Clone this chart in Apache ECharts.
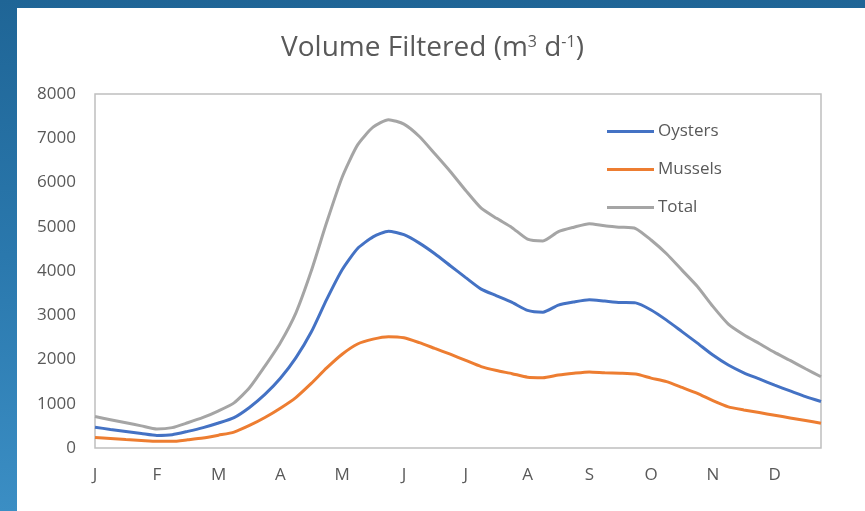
<!DOCTYPE html>
<html>
<head>
<meta charset="utf-8">
<script src="https://cdn.jsdelivr.net/npm/echarts@6/dist/echarts.min.js"></script>
<style>
  html, body { margin: 0; padding: 0; width: 865px; height: 511px; overflow: hidden; }
  body { background: linear-gradient(180deg, #1f6596 0%, #2a78ad 50%, #3b8ec4 100%); position: relative; }
  #panel { position: absolute; left: 17px; top: 8px; right: 0; bottom: 0; background: #ffffff; }
  #chart { position: absolute; left: 0; top: 0; width: 865px; height: 511px; }
</style>
</head>
<body>
<div id="panel"></div>
<div id="chart"></div>
<script>
// Month initials shown under the axis (one label per 4 quarter-month steps)
const months = ['J', 'F', 'M', 'A', 'M', 'J', 'J', 'A', 'S', 'O', 'N', 'D'];

// Daily volume filtered (m3 d-1), sampled four times per month
const oysters = [470, 420, 375, 330, 285, 300, 375, 460, 564, 686,
  916, 1210, 1575, 2036, 2620, 3360, 4030, 4510, 4770, 4900,
  4820, 4630, 4390, 4120, 3850, 3590, 3440, 3290, 3110, 3070,
  3230, 3300, 3350, 3320, 3290, 3280, 3120, 2890, 2630, 2370,
  2100, 1875, 1700, 1560, 1420, 1290, 1160, 1050];

const mussels = [240, 215, 190, 170, 150, 150, 185, 225, 290, 360,
  510, 690, 900, 1140, 1460, 1810, 2120, 2350, 2460, 2515,
  2490, 2380, 2250, 2120, 1980, 1840, 1750, 1680, 1600, 1590,
  1650, 1690, 1720, 1700, 1690, 1670, 1580, 1500, 1370, 1235,
  1070, 930, 860, 800, 740, 680, 620, 560];

const total = [710, 640, 570, 500, 430, 460, 570, 690, 840, 1020,
  1360, 1850, 2380, 3050, 4000, 5100, 6120, 6850, 7250, 7420,
  7320, 7040, 6650, 6250, 5820, 5420, 5190, 4980, 4720, 4680,
  4890, 4990, 5070, 5020, 4990, 4960, 4700, 4390, 4020, 3650,
  3200, 2800, 2560, 2360, 2160, 1980, 1790, 1610];

const steps = oysters.map((_, i) => String(i));

const FONT = 'Open Sans';
const TEXT = '#595959';

const chart = echarts.init(document.getElementById('chart'), null, { renderer: 'canvas' });

chart.setOption({
  backgroundColor: 'transparent',
  animation: false,
  title: {
    text: '{a|Volume Filtered (m}{s|3}{a| d}{s|-1}{a|)}',
    left: 'center',
    top: 28,
    padding: 0,
    textStyle: {
      fontWeight: 'normal',
      rich: {
        a: { fontFamily: FONT, fontSize: 28, fontWeight: 'normal', color: TEXT, lineHeight: 34, verticalAlign: 'bottom' },
        s: { fontFamily: FONT, fontSize: 16, fontWeight: 'normal', color: TEXT, lineHeight: 16, verticalAlign: 'bottom', padding: [0, 0, 12, 0] }
      }
    }
  },
  legend: {
    orient: 'vertical',
    left: 607,
    top: 123,
    padding: 0,
    itemWidth: 47,
    itemHeight: 3,
    itemGap: 21,
    icon: 'rect',
    textStyle: { fontFamily: FONT, fontSize: 17, color: TEXT, padding: [0, 0, 0, -1] },
    data: ['Oysters', 'Mussels', 'Total']
  },
  grid: {
    left: 95, right: 44, top: 94, bottom: 63,
    show: true, borderColor: '#bfbfbf', borderWidth: 1.5, backgroundColor: 'transparent'
  },
  xAxis: {
    type: 'category',
    data: steps,
    boundaryGap: false,
    axisLine: { show: false },
    axisTick: { show: false },
    axisLabel: {
      interval: 3,
      margin: 19,
      fontFamily: FONT, fontSize: 17, color: TEXT,
      formatter: (v, idx) => months[Math.floor(idx / 4)]
    },
    splitLine: { show: false }
  },
  yAxis: {
    type: 'value',
    min: 0, max: 8000, interval: 1000,
    axisLine: { show: false },
    axisTick: { show: false },
    axisLabel: { margin: 19, fontFamily: FONT, fontSize: 17, color: TEXT, formatter: v => String(v) },
    splitLine: { show: false }
  },
  series: [
    { name: 'Oysters', type: 'line', data: oysters, showSymbol: false, smooth: 0.2,
      lineStyle: { width: 3, color: '#4472c4' }, itemStyle: { color: '#4472c4' } },
    { name: 'Mussels', type: 'line', data: mussels, showSymbol: false, smooth: 0.2,
      lineStyle: { width: 3, color: '#ed7d31' }, itemStyle: { color: '#ed7d31' } },
    { name: 'Total', type: 'line', data: total, showSymbol: false, smooth: 0.2,
      lineStyle: { width: 3, color: '#a5a5a5' }, itemStyle: { color: '#a5a5a5' } }
  ]
});
</script>
</body>
</html>
